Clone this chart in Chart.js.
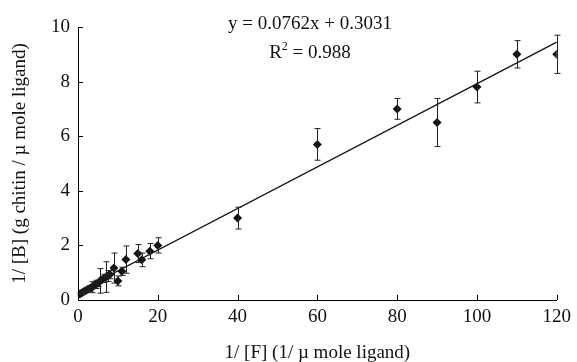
<!DOCTYPE html>
<html>
<head>
<meta charset="utf-8">
<script src="https://cdn.jsdelivr.net/npm/chart.js@4"></script>
<style>
    html, body { margin: 0; padding: 0; background: #ffffff; }
    #wrap { width: 577px; height: 362px; }
</style>
</head>
<body>
<div id="wrap"><canvas id="chartUnion"></canvas></div>
<script>
// ===== Datos =====
const puntosX = [0.5, 1, 1.5, 2, 2.5, 3, 3.5, 4, 4.5, 5, 5.5, 6, 6.5, 7, 7.5, 8, 9, 10, 11, 12, 15, 16, 18, 20, 40, 60, 80, 90, 100, 110, 120];
const puntosY = [0.22, 0.27, 0.31, 0.35, 0.39, 0.43, 0.47, 0.52, 0.57, 0.61, 0.70, 0.74, 0.79, 0.84, 0.88, 0.93, 1.17, 0.70, 1.05, 1.48, 1.70, 1.47, 1.79, 2.00, 3.00, 5.70, 7.00, 6.50, 7.80, 9.00, 9.00];
const errores = [0.03, 0.04, 0.04, 0.05, 0.08, 0.10, 0.20, 0.10, 0.15, 0.12, 0.45, 0.10, 0.15, 0.56, 0.20, 0.15, 0.55, 0.18, 0.15, 0.50, 0.33, 0.25, 0.28, 0.28, 0.40, 0.58, 0.38, 0.88, 0.58, 0.50, 0.70];

// recta de ajuste (extremos)
const rectaX = [0, 120];
const rectaY = [0.3031, 9.4471];

const ticksX = [0, 20, 40, 60, 80, 100, 120];
const ticksY = [0, 2, 4, 6, 8, 10];

const fuente = "'Liberation Serif', 'Times New Roman', serif";

// Barras de error + marcas hacia dentro + ecuacion
const pluginExtras = {
    id: 'extras',
    afterDatasetsDraw(chart) {
        const ctx = chart.ctx;
        const sx = chart.scales.x;
        const sy = chart.scales.y;
        ctx.save();
        ctx.strokeStyle = '#222222';
        ctx.lineWidth = 1;
        for (let i = 0; i < puntosX.length; i++) {
            const px = Math.round(sx.getPixelForValue(puntosX[i])) + 0.5;
            const top = sy.getPixelForValue(puntosY[i] + errores[i]);
            const bot = sy.getPixelForValue(puntosY[i] - errores[i]);
            ctx.beginPath();
            ctx.moveTo(px, top);
            ctx.lineTo(px, bot);
            ctx.moveTo(px - 3, top);
            ctx.lineTo(px + 3, top);
            ctx.moveTo(px - 3, bot);
            ctx.lineTo(px + 3, bot);
            ctx.stroke();
        }

        // marcas de los ejes hacia dentro
        ctx.strokeStyle = '#000000';
        const base = sy.getPixelForValue(0);
        const izq = sx.getPixelForValue(0);
        ticksX.forEach(function(v) {
            const px = Math.round(sx.getPixelForValue(v)) + 0.5;
            ctx.beginPath();
            ctx.moveTo(px, base);
            ctx.lineTo(px, base - 5);
            ctx.stroke();
        });
        ticksY.forEach(function(v) {
            const py = Math.round(sy.getPixelForValue(v)) + 0.5;
            ctx.beginPath();
            ctx.moveTo(izq, py);
            ctx.lineTo(izq + 5, py);
            ctx.stroke();
        });

        // ecuacion
        ctx.fillStyle = '#111111';
        ctx.font = '19px ' + fuente;
        ctx.textAlign = 'center';
        ctx.textBaseline = 'alphabetic';
        ctx.fillText('y = 0.0762x + 0.3031', 310, 29);
        ctx.textAlign = 'left';
        const t1 = 'R';
        const t2 = ' = 0.988';
        ctx.font = '19px ' + fuente;
        const w1 = ctx.measureText(t1).width;
        ctx.font = '12px ' + fuente;
        const ws = ctx.measureText('2').width;
        ctx.font = '19px ' + fuente;
        const w2 = ctx.measureText(t2).width;
        const x0 = 310 - (w1 + ws + w2) / 2;
        ctx.fillText(t1, x0, 58);
        ctx.font = '12px ' + fuente;
        ctx.fillText('2', x0 + w1, 50);
        ctx.font = '19px ' + fuente;
        ctx.fillText(t2, x0 + w1 + ws, 58);
        ctx.restore();
    }
};

document.addEventListener('DOMContentLoaded', function() {
    const datosPuntos = puntosX.map(function(x, i) { return { x: x, y: puntosY[i] }; });
    const datosRecta = rectaX.map(function(x, i) { return { x: x, y: rectaY[i] }; });

    new Chart(document.getElementById('chartUnion'), {
        type: 'scatter',
        data: {
            datasets: [
                {
                    label: 'recta',
                    type: 'line',
                    data: datosRecta,
                    borderColor: '#111111',
                    borderWidth: 1.4,
                    pointRadius: 0,
                    fill: false,
                    order: 2
                },
                {
                    label: 'datos',
                    data: datosPuntos,
                    pointStyle: 'rectRot',
                    pointRadius: 4.5,
                    backgroundColor: '#111111',
                    borderColor: '#111111',
                    borderWidth: 0,
                    order: 1
                }
            ]
        },
        options: {
            responsive: true,
            maintainAspectRatio: false,
            animation: false,
            layout: {
                padding: { top: 27, right: 19, left: 0, bottom: 0 }
            },
            plugins: {
                legend: { display: false },
                tooltip: { enabled: false }
            },
            scales: {
                x: {
                    type: 'linear',
                    min: 0,
                    max: 120,
                    grid: { display: false, drawTicks: false },
                    border: { display: true, color: '#000000', width: 1 },
                    ticks: {
                        stepSize: 20,
                        padding: 6,
                        color: '#111111',
                        font: { family: fuente, size: 19 }
                    },
                    title: {
                        display: true,
                        text: '1/ [F] (1/ µ mole ligand)',
                        color: '#111111',
                        font: { family: fuente, size: 19 },
                        padding: { top: 13, bottom: -2 }
                    },
                    afterFit: function(scale) { scale.height = 62; }
                },
                y: {
                    type: 'linear',
                    min: 0,
                    max: 10,
                    grid: { display: false, drawTicks: false },
                    border: { display: true, color: '#000000', width: 1 },
                    ticks: {
                        stepSize: 2,
                        padding: 8,
                        color: '#111111',
                        font: { family: fuente, size: 19 }
                    },
                    title: {
                        display: true,
                        text: '1/ [B] (g chitin / µ mole ligand)',
                        color: '#111111',
                        font: { family: fuente, size: 19 },
                        padding: { top: 9, bottom: 0 }
                    },
                    afterFit: function(scale) { scale.width = 78; }
                }
            }
        },
        plugins: [pluginExtras]
    });
});
</script>
</body>
</html>
